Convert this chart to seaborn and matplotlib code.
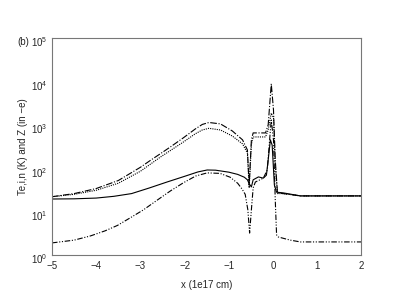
import numpy as np
import pandas as pd
import matplotlib
matplotlib.use("Agg")
import matplotlib.pyplot as plt
import matplotlib.transforms as mtransforms
import seaborn as sns
from matplotlib.ticker import MultipleLocator, LogLocator

# Curve data (x in 1e17 cm)
x_a = [-5.0, -4.5, -4.0, -3.5, -3.0, -2.78, -2.55, -2.32, -2.03, -1.76, -1.6, -1.45,
       -1.19, -0.92, -0.69, -0.58, -0.54, -0.49, -0.45, -0.17, -0.11, -0.04, 0.01,
       0.05, 0.10, 0.23, 0.62, 2.0]
y_a = [22, 26, 34, 52, 105, 150, 215, 310, 500, 800, 1020, 1130,
       1050, 720, 450, 263, 41, 450, 650, 650, 1000, 8800, 2200,
       155, 27, 26, 23, 23]

x_b = [-5.0, -4.5, -4.0, -3.5, -3.0, -2.55, -2.03, -1.76, -1.6, -1.45, -1.19, -0.92,
       -0.69, -0.58, -0.54, -0.49, -0.45, -0.17, -0.11, -0.04, 0.01, 0.05, 0.10,
       0.23, 0.62, 2.0]
y_b = [22, 25, 31, 45, 85, 180, 400, 620, 760, 830, 760, 550,
       363, 224, 35, 355, 525, 525, 760, 1860, 1450, 117, 26,
       26, 23, 23]

x_c = [-5.0, -4.5, -4.0, -3.6, -3.2, -2.8, -2.4, -2.0, -1.7, -1.49, -1.3, -1.0,
       -0.8, -0.65, -0.58, -0.54, -0.49, -0.45, -0.33, -0.22, -0.15, -0.11, -0.06,
       -0.02, 0.03, 0.08, 0.23, 0.62, 2.0]
y_c = [19.5, 19.7, 20.5, 22.5, 26, 35, 48, 65, 82, 91, 90, 81,
       72, 62, 54, 44, 37, 54, 63, 59, 69, 155, 450,
       340, 41, 28, 27, 23, 23]

x_d = [-5.0, -4.5, -4.13, -3.8, -3.52, -3.2, -2.93, -2.6, -2.32, -2.03, -1.75, -1.49,
       -1.2, -0.97, -0.8, -0.7, -0.63, -0.57, -0.53, -0.49, -0.45, -0.40, -0.22,
       -0.13, -0.06, -0.04, 0.01, 0.05, 0.08, 0.12, 0.39, 0.62, 2.0]
y_d = [1.9, 2.2, 2.75, 3.6, 4.8, 7.5, 11, 19, 30, 46, 66, 78,
       76, 62, 45, 33, 25, 11, 3.2, 11, 35, 48, 59,
       91, 760, 1290, 450, 18.6, 2.9, 2.6, 2.2, 2.0, 2.0]

sns.set_style("white")
plt.rcParams['font.family'] = ['Liberation Sans', 'DejaVu Sans']
plt.rcParams['mathtext.fontset'] = 'custom'
plt.rcParams['mathtext.rm'] = 'Liberation Sans'

fig = plt.figure(figsize=(4.14, 2.93), dpi=100)
ax = fig.add_axes([0.1256, 0.1297, 0.7475, 0.7406])

curves = [
    (x_a, y_a, (0, (6, 1.5, 1, 1.5))),
    (x_b, y_b, (0, (1, 1))),
    (x_c, y_c, '-'),
    (x_d, y_d, (0, (5, 1.5, 1, 1.5, 1, 1.5))),
]
for xs, ys, ls in curves:
    df = pd.DataFrame({'x': xs, 'y': ys})
    sns.lineplot(data=df, x='x', y='y', ax=ax, color='black', lw=0.8,
                 linestyle=ls, sort=False, estimator=None)

ax.set_yscale('log')
ax.set_xlim(-5, 2)
ax.set_ylim(1, 1e5)
ax.xaxis.set_major_locator(MultipleLocator(1))
ax.xaxis.set_minor_locator(MultipleLocator(1 / 3))
ax.set_yticks([1, 10, 100, 1e3, 1e4, 1e5])
ax.yaxis.set_minor_locator(LogLocator(base=10, subs=np.arange(2, 10), numticks=10))
ax.tick_params(which='both', direction='in', top=False, right=False,
               color='#555555', labelsize=7)
ax.tick_params(axis='x', pad=4)
ax.tick_params(axis='y', pad=3.5)
ax.tick_params(which='major', length=4, width=0.6)
ax.tick_params(which='minor', length=2, width=0.5)
for sp in ax.spines.values():
    sp.set_color('#777777')
    sp.set_linewidth(0.8)

# "10" sits a little below its tick, exponent level with the tick
shift = mtransforms.ScaledTranslation(0, -2.5 / 72, fig.dpi_scale_trans)
for lab in ax.get_yticklabels():
    lab.set_transform(lab.get_transform() + shift)

ax.set_xlabel('x (1e17 cm)', fontsize=7, labelpad=7)
ax.set_ylabel('Te,i,n (K) and Z (in \u2212e)', fontsize=7, labelpad=2)
fig.text(0.042, 0.845, '(b)', fontsize=7)

fig.savefig('out.png', dpi=100)
